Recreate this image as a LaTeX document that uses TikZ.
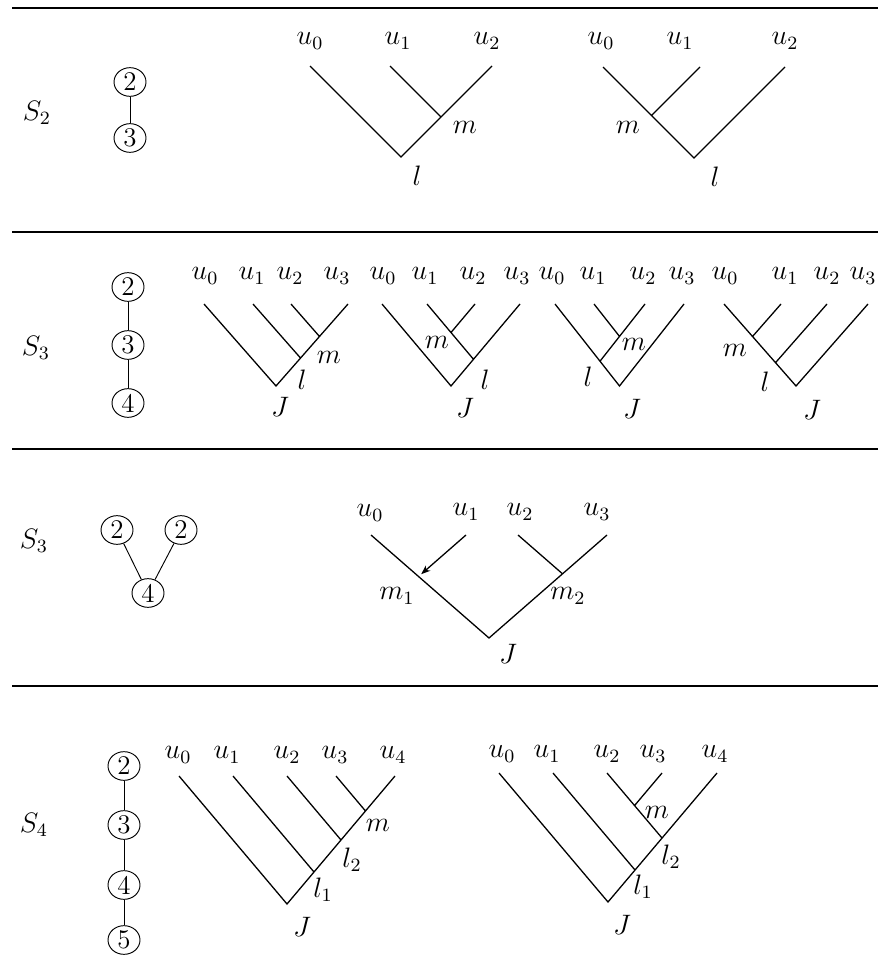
\documentclass[tikz,border=0pt]{standalone}
\usepackage{amsmath, amssymb}
\usepackage{tikz}
\usetikzlibrary{arrows.meta, shapes.geometric}

\begin{document}
\begin{tikzpicture}[x=0.015cm, y=-0.015cm,
    every node/.style={font=\fontsize{11.5}{14}\selectfont},
    vert/.style={draw, ellipse, inner sep=0pt, minimum width=0.48cm, minimum height=0.43cm},
    tree/.style={line width=0.55pt},
    rule/.style={line width=0.9pt}]
        \useasboundingbox (0,0) rectangle (893,958);

        % Separating rules
        \draw[rule] (12,8) -- (878,8);
        \draw[rule] (12,232) -- (878,232);
        \draw[rule] (12,449) -- (878,449);
        \draw[rule] (12,686) -- (878,686);

        % S_2
        \node (S2) at (37,113) {$S_2$};
        \node[vert] (a2) at (130,82) {2};
        \node[vert] (a3) at (130,138) {3};
        \draw (a2) -- (a3);

        % S_2, first tree
        \path (310,66) coordinate (A0) (390,66) coordinate (A1) (492,66) coordinate (A2)
              (441,117) coordinate (Am) (401,157) coordinate (Al);
        \draw[tree] (A0) -- (Al) -- (A2) (A1) -- (Am);
        \node (uA0) at (310,41) {$u_0$};
        \node (uA1) at (398,41) {$u_1$};
        \node (uA2) at (487,41) {$u_2$};
        \node (mA) at (465,127) {$m$};
        \node (lA) at (417,176) {$l$};

        % S_2, second tree
        \path (603,67) coordinate (B0) (700,67) coordinate (B1) (785,67) coordinate (B2)
              (651.5,115.5) coordinate (Bm) (694,158) coordinate (Bl);
        \draw[tree] (B0) -- (Bl) -- (B2) (B1) -- (Bm);
        \node (uB0) at (601,41) {$u_0$};
        \node (uB1) at (680,41) {$u_1$};
        \node (uB2) at (785,41) {$u_2$};
        \node (mB) at (628,127) {$m$};
        \node (lB) at (715,177) {$l$};

        % S_3, path graph
        \node (S3) at (36,348) {$S_3$};
        \node[vert] (b2) at (128,287) {2};
        \node[vert] (b3) at (128,345) {3};
        \node[vert] (b4) at (128,403) {4};
        \draw (b2) -- (b3) -- (b4);

        % S_3, tree 1
        \path (204,304) coordinate (C0) (253,304) coordinate (C1) (291,304) coordinate (C2) (348,304) coordinate (C3)
              (300.5,358) coordinate (Cl) (319.5,336.5) coordinate (Cm) (276,386) coordinate (CJ);
        \draw[tree] (C0) -- (CJ) -- (C3) (C1) -- (Cl) (C2) -- (Cm);
        \node (uC0) at (205,276) {$u_0$};
        \node (uC1) at (252,276) {$u_1$};
        \node (uC2) at (290,276) {$u_2$};
        \node (uC3) at (337,276) {$u_3$};
        \node (mC) at (329,357) {$m$};
        \node (lC) at (302,380) {$l$};
        \node (JC) at (280,407) {$J$};

        % S_3, tree 2
        \path (382,304) coordinate (D0) (427,304) coordinate (D1) (475,304) coordinate (D2) (520,304) coordinate (D3)
              (473.5,359.3) coordinate (Dl) (451,332.5) coordinate (Dm) (451,386) coordinate (DJ);
        \draw[tree] (D0) -- (DJ) -- (D3) (D1) -- (Dl) (D2) -- (Dm);
        \node (uD0) at (383,276) {$u_0$};
        \node (uD1) at (425,276) {$u_1$};
        \node (uD2) at (473,276) {$u_2$};
        \node (uD3) at (517,276) {$u_3$};
        \node (mD) at (437,342) {$m$};
        \node (lD) at (485,380) {$l$};
        \node (JD) at (465,408) {$J$};

        % S_3, tree 3
        \path (555,304) coordinate (E0) (594,304) coordinate (E1) (645,304) coordinate (E2) (684,304) coordinate (E3)
              (600,361.2) coordinate (El) (619.5,336.4) coordinate (Em) (619.5,386) coordinate (EJ);
        \draw[tree] (E0) -- (EJ) -- (E3) (E2) -- (El) (E1) -- (Em);
        \node (uE0) at (552,276) {$u_0$};
        \node (uE1) at (593,276) {$u_1$};
        \node (uE2) at (643,276) {$u_2$};
        \node (uE3) at (682,276) {$u_3$};
        \node (mE) at (634,344) {$m$};
        \node (lE) at (588,377) {$l$};
        \node (JE) at (632,409) {$J$};

        % S_3, tree 4
        \path (724,304) coordinate (F0) (781,304) coordinate (F1) (827,304) coordinate (F2) (868,304) coordinate (F3)
              (752.5,336.5) coordinate (Fm) (775.5,362.7) coordinate (Fl) (796,386) coordinate (FJ);
        \draw[tree] (F0) -- (FJ) -- (F3) (F1) -- (Fm) (F2) -- (Fl);
        \node (uF0) at (725,276) {$u_0$};
        \node (uF1) at (785,276) {$u_1$};
        \node (uF2) at (827,276) {$u_2$};
        \node (uF3) at (863,276) {$u_3$};
        \node (mF) at (735,350) {$m$};
        \node (lF) at (765,382) {$l$};
        \node (JF) at (812,410) {$J$};

        % S_3, star graph
        \node (S3b) at (34,541) {$S_3$};
        \node[vert] (c2a) at (117,530) {2};
        \node[vert] (c2b) at (181,530) {2};
        \node[vert] (c4) at (148,593) {4};
        \draw (c2a) -- (c4) -- (c2b);

        % S_3, its tree
        \path (371,535) coordinate (G0) (466,535) coordinate (G1) (518,535) coordinate (G2) (607,535) coordinate (G3)
              (418.5,576.5) coordinate (Gm1) (562.5,573.8) coordinate (Gm2) (489,638) coordinate (GJ);
        \draw[tree] (G0) -- (GJ) -- (G3) (G2) -- (Gm2);
        \draw[tree, -{Stealth[length=4pt, width=3pt]}, shorten >=1.5pt] (G1) -- (Gm1);
        \node (uG0) at (370,513) {$u_0$};
        \node (uG1) at (466,512) {$u_1$};
        \node (uG2) at (520,512) {$u_2$};
        \node (uG3) at (597,512) {$u_3$};
        \node (m1G) at (397,596) {$m_1$};
        \node (m2G) at (568,596) {$m_2$};
        \node (JG) at (508,654) {$J$};

        % S_4
        \node (S4) at (34,825) {$S_4$};
        \node[vert] (d2) at (124,766) {2};
        \node[vert] (d3) at (124,825) {3};
        \node[vert] (d4) at (124,885) {4};
        \node[vert] (d5) at (124,940) {5};
        \draw (d2) -- (d3) -- (d4) -- (d5);

        % S_4, first tree
        \path (179,776) coordinate (H0) (233,776) coordinate (H1) (287,776) coordinate (H2) (336,776) coordinate (H3)
              (395,776) coordinate (H4) (314,872) coordinate (Hl1) (341,840) coordinate (Hl2) (365.5,811) coordinate (Hm)
              (287,904) coordinate (HJ);
        \draw[tree] (H0) -- (HJ) -- (H4) (H1) -- (Hl1) (H2) -- (Hl2) (H3) -- (Hm);
        \node (uH0) at (178,755) {$u_0$};
        \node (uH1) at (227,755) {$u_1$};
        \node (uH2) at (287,755) {$u_2$};
        \node (uH3) at (335,755) {$u_3$};
        \node (uH4) at (393,755) {$u_4$};
        \node (mH) at (378,825) {$m$};
        \node (l2H) at (352,860) {$l_2$};
        \node (l1H) at (323,890) {$l_1$};
        \node (JH) at (302,927) {$J$};

        % S_4, second tree
        \path (499,773) coordinate (K0) (553,773) coordinate (K1) (607,773) coordinate (K2) (662,773) coordinate (K3)
              (717,773) coordinate (K4) (635,870) coordinate (Kl1) (662,838) coordinate (Kl2) (634.5,805.6) coordinate (Km)
              (608,902) coordinate (KJ);
        \draw[tree] (K0) -- (KJ) -- (K4) (K1) -- (Kl1) (K2) -- (Kl2) (K3) -- (Km);
        \node (uK0) at (502,754) {$u_0$};
        \node (uK1) at (547,754) {$u_1$};
        \node (uK2) at (607,754) {$u_2$};
        \node (uK3) at (653,754) {$u_3$};
        \node (uK4) at (715,754) {$u_4$};
        \node (mK) at (657,812) {$m$};
        \node (l2K) at (671,857) {$l_2$};
        \node (l1K) at (643,887) {$l_1$};
        \node (JK) at (622,925) {$J$};
\end{tikzpicture}
\end{document}
